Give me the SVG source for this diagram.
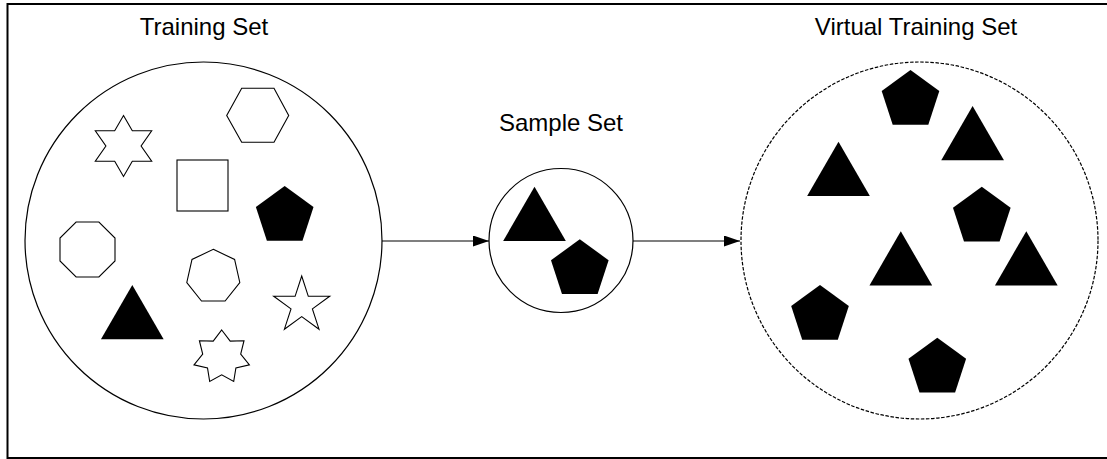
<svg xmlns="http://www.w3.org/2000/svg" width="1107" height="459" viewBox="0 0 1107 459">
<style>
.lbl{font-family:"Liberation Sans",Arial,sans-serif;font-size:24px;fill:#000;text-anchor:middle}
.ring{fill:none;stroke:#000;stroke-width:1.2}
.dash{fill:none;stroke:#000;stroke-width:1.2;stroke-dasharray:3.5 1.6}
.out{fill:#fff;stroke:#000;stroke-width:1.1}
.fill{fill:#000;stroke:none}
.conn{fill:none;stroke:#000;stroke-width:1.2}
</style>
<defs>
<polygon id="pent" points="0,-30.3 28.82,-9.36 17.81,24.51 -17.81,24.51 -28.82,-9.36"/>
<polygon id="tri" points="0,0 31.35,54.3 -31.35,54.3"/>
<marker id="ah" markerWidth="16" markerHeight="11" refX="16" refY="5.5" orient="auto" markerUnits="userSpaceOnUse">
<polygon points="0,0 16,5.5 0,11" fill="#000"/>
</marker>
</defs>
<rect x="0" y="0" width="1107" height="459" fill="#fff"/>
<rect x="7.5" y="4" width="1110" height="454" fill="none" stroke="#000" stroke-width="2"/>

<g id="training-set">
<text class="lbl" x="204" y="35">Training Set</text>
<circle class="ring" cx="203.5" cy="240.5" r="178.5"/>
<polygon class="out" points="226.7,115.5 241.7,88.3 274,88.3 288.7,115.5 274,142.3 241.7,142.3"/>
<polygon class="out" points="123.5,115.5 132.3,130.7 151.7,130.7 141.1,146 151.7,161.2 132.3,161.2 123.5,176.5 114.7,161.2 95.3,161.2 105.9,146 95.3,130.7 114.7,130.7"/>
<rect class="out" x="177" y="160" width="51" height="51"/>
<use href="#pent" class="fill" x="284.7" y="216.3"/>
<polygon class="out" points="76.1,222 98.9,222 115,238.1 115,260.9 98.9,277 76.1,277 60,260.9 60,238.1"/>
<polygon class="out" points="213.3,249.3 234.6,259.5 239.8,282.5 225.1,301 201.5,301 186.8,282.5 192,259.5"/>
<polygon class="out" points="301.7,276 308.3,296.3 329.7,296.3 312.4,308.9 319,329.2 301.7,316.6 284.4,329.2 291,308.9 273.7,296.3 295.1,296.3"/>
<polygon class="out" points="221.7,330 230.2,341.1 244.0,340.7 240.7,354.1 249.4,364.8 235.9,367.9 233.7,381.5 221.7,374.8 209.7,381.5 207.5,367.9 194.0,364.8 202.7,354.1 199.4,340.7 213.2,341.1"/>
<use href="#tri" class="fill" x="132.3" y="285"/>
</g>

<g id="sample-set">
<text class="lbl" x="561" y="131">Sample Set</text>
<circle class="ring" cx="561" cy="240.5" r="72"/>
<use href="#tri" class="fill" x="534.5" y="186.7"/>
<use href="#pent" class="fill" x="579.8" y="269.6"/>
</g>

<g id="virtual-training-set">
<text class="lbl" x="916" y="35">Virtual Training Set</text>
<circle class="dash" cx="919.5" cy="240.5" r="178.5"/>
<use href="#pent" class="fill" x="910.5" y="100.3"/>
<use href="#tri" class="fill" x="972.6" y="106"/>
<use href="#tri" class="fill" x="838.5" y="141.7"/>
<use href="#pent" class="fill" x="981.8" y="217"/>
<use href="#tri" class="fill" x="900.8" y="231.2"/>
<use href="#tri" class="fill" x="1026.3" y="231.2"/>
<use href="#pent" class="fill" x="820" y="315.3"/>
<use href="#pent" class="fill" x="937.3" y="368"/>
</g>

<g id="connectors">
<line class="conn" x1="382" y1="241" x2="489" y2="241" marker-end="url(#ah)"/>
<line class="conn" x1="633" y1="241" x2="740" y2="241" marker-end="url(#ah)"/>
</g>
</svg>
